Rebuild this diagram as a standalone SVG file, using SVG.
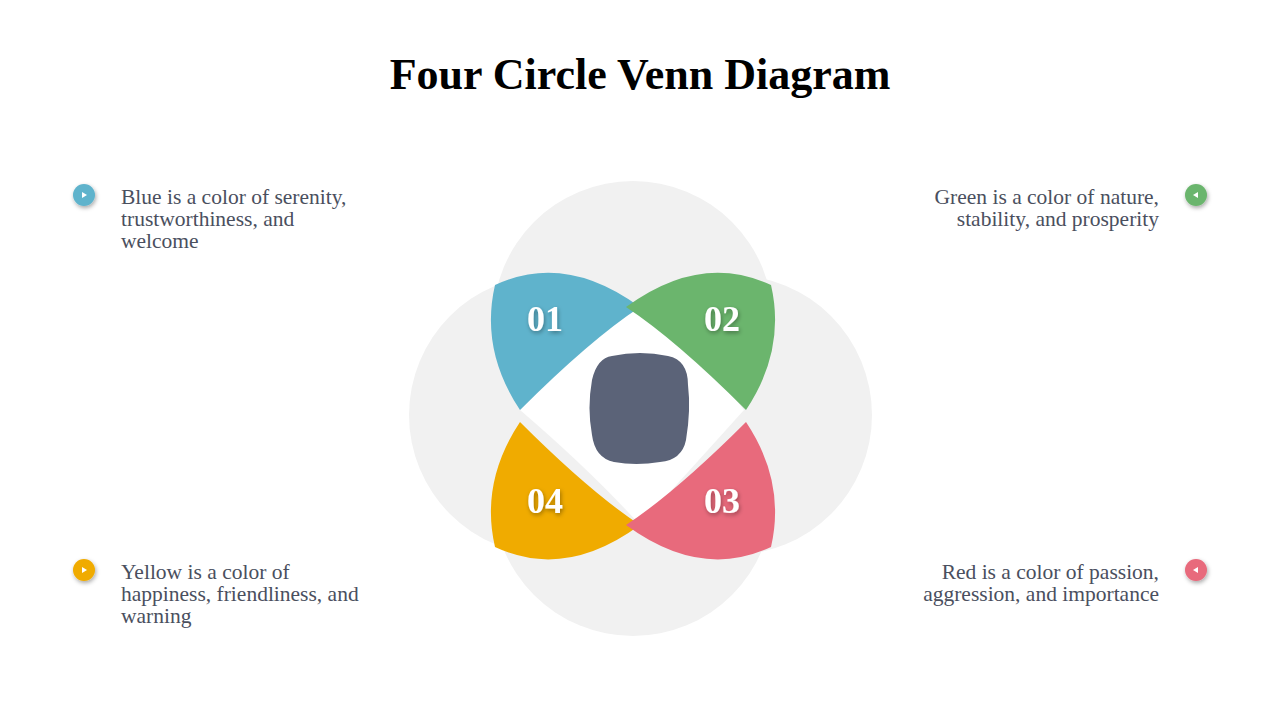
<svg xmlns="http://www.w3.org/2000/svg" width="1280" height="720" viewBox="0 0 1280 720">
<defs>
<filter id="sh" x="-50%" y="-50%" width="200%" height="200%"><feDropShadow dx="1" dy="2" stdDeviation="2" flood-color="#000" flood-opacity="0.35"/></filter>
<style>
.g{fill:#f1f1f1}
.num{font-family:"Liberation Serif",serif;font-weight:bold;font-size:36px;fill:#fff;text-anchor:middle}
.t{font-family:"Liberation Serif",serif;font-size:21.5px;fill:#4a4f5e}
.r{text-anchor:end}
</style>
<path id="petal" d="M495,285 Q565,252 640,307 Q590,340 520,410 Q480,350 495,285 Z"/>
</defs>
<rect width="1280" height="720" fill="#fff"/>
<text x="640" y="89" text-anchor="middle" font-family="Liberation Serif,serif" font-weight="bold" font-size="44" fill="#000">Four Circle Venn Diagram</text>
<g id="circles">
<circle class="g" cx="633" cy="321" r="140"/>
<circle class="g" cx="633" cy="496" r="140"/>
<circle class="g" cx="549" cy="415" r="140"/>
<circle class="g" cx="732" cy="415" r="140"/>
<path fill="#fff" d="M640,307 Q690,340 744,410 Q690,470 640,525 Q590,470 520,410 Q590,340 640,307 Z"/>
</g>
<g id="n01"><use href="#petal" fill="#5fb3cc"/><text class="num" x="545" y="331" filter="url(#sh)">01</text></g>
<g id="n02"><use href="#petal" fill="#6bb56d" transform="translate(1266,0) scale(-1,1)"/><text class="num" x="722" y="331" filter="url(#sh)">02</text></g>
<g id="n04"><use href="#petal" fill="#f0ab00" transform="translate(0,832) scale(1,-1)"/><text class="num" x="545" y="513" filter="url(#sh)">04</text></g>
<g id="n03"><use href="#petal" fill="#e86a7c" transform="translate(1266,832) scale(-1,-1)"/><text class="num" x="722" y="513" filter="url(#sh)">03</text></g>
<g id="center"><path fill="#5b6378" d="M612,356 Q640,350 668,356 Q688,360 688,385 Q691,410 686,440 Q682,460 660,462 Q636,466 614,462 Q595,458 592,435 Q587,408 592,380 Q597,358 612,356 Z"/></g>
<g id="b1"><circle cx="84" cy="195" r="11" fill="#5fb3cc" filter="url(#sh)"/><path d="M82,192 L87,195 L82,198 Z" fill="#fff"/>
<text class="t" x="121" y="204">Blue is a color of serenity,</text><text class="t" x="121" y="226">trustworthiness, and</text><text class="t" x="121" y="248">welcome</text></g>
<g id="b2"><circle cx="1196" cy="195" r="11" fill="#6bb56d" filter="url(#sh)"/><path d="M1198,192 L1193,195 L1198,198 Z" fill="#fff"/>
<text class="t r" x="1159" y="204">Green is a color of nature,</text><text class="t r" x="1159" y="226">stability, and prosperity</text></g>
<g id="b4"><circle cx="84" cy="570" r="11" fill="#f0ab00" filter="url(#sh)"/><path d="M82,567 L87,570 L82,573 Z" fill="#fff"/>
<text class="t" x="121" y="579">Yellow is a color of</text><text class="t" x="121" y="601">happiness, friendliness, and</text><text class="t" x="121" y="623">warning</text></g>
<g id="b3"><circle cx="1196" cy="570" r="11" fill="#e86a7c" filter="url(#sh)"/><path d="M1198,567 L1193,570 L1198,573 Z" fill="#fff"/>
<text class="t r" x="1159" y="579">Red is a color of passion,</text><text class="t r" x="1159" y="601">aggression, and importance</text></g>
</svg>
